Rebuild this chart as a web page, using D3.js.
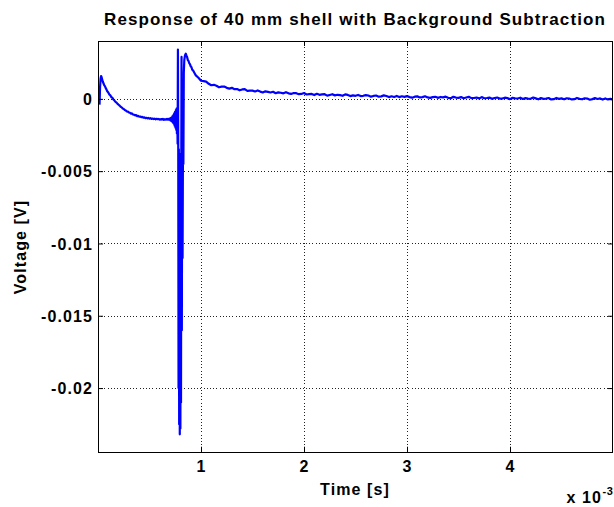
<!DOCTYPE html>
<html>
<head>
<meta charset="utf-8">
<script src="https://cdn.jsdelivr.net/npm/d3@7"></script>
<style>
  html, body { margin: 0; padding: 0; background: #fff; }
  svg { display: block; font-family: "Liberation Sans", Arial, Helvetica, sans-serif; font-weight: bold; }
</style>
</head>
<body>
<svg id="chart" width="614" height="507"></svg>
<script>
// ---- labels and ticks ----
const chartTitle = "Response of 40 mm shell with Background Subtraction";
const xLabel = "Time [s]";
const yLabel = "Voltage [V]";
const xMultiplier = "x 10";
const xExponent = "-3";
const xDomain = [0, 5];               // time in units of 10^-3 s
const xTicks = [1, 2, 3, 4];
const xTickLabels = ["1", "2", "3", "4"];
const yDomain = [-0.0244, 0.004];     // volts
const yTicks = [0, -0.005, -0.01, -0.015, -0.02];
const yTickLabels = ["0", "-0.005", "-0.01", "-0.015", "-0.02"];

// ---- measured trace ----
// early part: initial overshoot, settling plateau and the impact transient (time in ms, voltage in V)
const timeEarly = [
  0.015, 0.020, 0.025, 0.030, 0.035, 0.040, 0.047, 0.054, 0.061, 0.068,
  0.075, 0.082, 0.090, 0.100, 0.110, 0.120, 0.130, 0.140, 0.150, 0.160,
  0.170, 0.180, 0.190, 0.200, 0.210, 0.220, 0.230, 0.240, 0.250, 0.260,
  0.270, 0.280, 0.290, 0.300, 0.310, 0.320, 0.330, 0.340, 0.350, 0.360,
  0.370, 0.380, 0.390, 0.400, 0.410, 0.420, 0.430, 0.440, 0.450, 0.460,
  0.470, 0.480, 0.490, 0.500, 0.510, 0.520, 0.530, 0.540, 0.550, 0.560,
  0.570, 0.580, 0.590, 0.600, 0.610, 0.620, 0.630, 0.640, 0.650, 0.660,
  0.670, 0.680, 0.690, 0.700, 0.705, 0.710, 0.715, 0.720, 0.724, 0.728,
  0.732, 0.736, 0.740, 0.744, 0.748, 0.752, 0.756, 0.760, 0.763, 0.766,
  0.770, 0.773, 0.776, 0.779, 0.782, 0.785, 0.788, 0.791, 0.794, 0.797,
  0.800, 0.803, 0.806, 0.809, 0.811, 0.814, 0.817, 0.821, 0.825, 0.829,
  0.833, 0.838, 0.845, 0.852, 0.858, 0.865, 0.872, 0.879, 0.886, 0.893,
  0.900, 0.907, 0.914
];
const voltEarly = [
  -0.00040, 0.00080, 0.00140, 0.00158, 0.00150, 0.00136, 0.00118, 0.00106, 0.00094, 0.00086,
  0.00074, 0.00066, 0.00052, 0.00044, 0.00030, 0.00024, 0.00011, 0.00007, -0.00005, -0.00012,
  -0.00021, -0.00026, -0.00035, -0.00041, -0.00047, -0.00055, -0.00059, -0.00067, -0.00070, -0.00077,
  -0.00080, -0.00087, -0.00088, -0.00094, -0.00096, -0.00102, -0.00101, -0.00108, -0.00110, -0.00114,
  -0.00113, -0.00119, -0.00118, -0.00123, -0.00122, -0.00127, -0.00125, -0.00130, -0.00128, -0.00133,
  -0.00131, -0.00135, -0.00132, -0.00137, -0.00134, -0.00139, -0.00136, -0.00140, -0.00137, -0.00142,
  -0.00138, -0.00141, -0.00139, -0.00144, -0.00140, -0.00143, -0.00139, -0.00145, -0.00140, -0.00144,
  -0.00138, -0.00145, -0.00137, -0.00147, -0.00133, -0.00152, -0.00128, -0.00158, -0.00120, -0.00165,
  -0.00112, -0.00172, -0.00100, -0.00185, -0.00090, -0.00200, -0.00078, -0.00215, -0.00068, -0.00240,
  -0.00150, -0.00310, 0.00340, -0.00300, -0.02000, -0.00350, -0.02250, -0.00450, -0.02320, -0.00500,
  -0.02280, -0.00380, -0.02100, -0.00300, 0.00290, -0.01600, -0.00350, -0.01100, -0.00300, -0.00450,
  0.00180, 0.00270, 0.00302, 0.00312, 0.00300, 0.00290, 0.00268, 0.00262, 0.00246, 0.00240,
  0.00224, 0.00220, 0.00203
];
// late part: slow relaxation back to the baseline
const timeLate = [
  0.925, 0.950, 0.975, 1.000, 1.025, 1.050, 1.075, 1.100, 1.125, 1.150,
  1.175, 1.200, 1.225, 1.250, 1.275, 1.300, 1.325, 1.350, 1.375, 1.400,
  1.425, 1.450, 1.475, 1.500, 1.525, 1.550, 1.575, 1.600, 1.625, 1.650,
  1.675, 1.700, 1.725, 1.750, 1.775, 1.800, 1.825, 1.850, 1.875, 1.900,
  1.925, 1.950, 1.975, 2.000, 2.025, 2.050, 2.075, 2.100, 2.125, 2.150,
  2.175, 2.200, 2.225, 2.250, 2.275, 2.300, 2.325, 2.350, 2.375, 2.400,
  2.425, 2.450, 2.475, 2.500, 2.525, 2.550, 2.575, 2.600, 2.625, 2.650,
  2.675, 2.700, 2.725, 2.750, 2.775, 2.800, 2.825, 2.850, 2.875, 2.900,
  2.925, 2.950, 2.975, 3.000, 3.025, 3.050, 3.075, 3.100, 3.125, 3.150,
  3.175, 3.200, 3.225, 3.250, 3.275, 3.300, 3.325, 3.350, 3.375, 3.400,
  3.425, 3.450, 3.475, 3.500, 3.525, 3.550, 3.575, 3.600, 3.625, 3.650,
  3.675, 3.700, 3.725, 3.750, 3.775, 3.800, 3.825, 3.850, 3.875, 3.900,
  3.925, 3.950, 3.975, 4.000, 4.025, 4.050, 4.075, 4.100, 4.125, 4.150,
  4.175, 4.200, 4.225, 4.250, 4.275, 4.300, 4.325, 4.350, 4.375, 4.400,
  4.425, 4.450, 4.475, 4.500, 4.525, 4.550, 4.575, 4.600, 4.625, 4.650,
  4.675, 4.700, 4.725, 4.750, 4.775, 4.800, 4.825, 4.850, 4.875, 4.900,
  4.925, 4.950, 4.975, 5.000
];
const voltLate = [
  0.00194, 0.00162, 0.00146, 0.00125, 0.00123, 0.00119, 0.00104, 0.00094, 0.00097, 0.00090,
  0.00080, 0.00084, 0.00085, 0.00076, 0.00071, 0.00076, 0.00067, 0.00068, 0.00059, 0.00065,
  0.00067, 0.00055, 0.00057, 0.00057, 0.00051, 0.00058, 0.00050, 0.00044, 0.00052, 0.00048,
  0.00044, 0.00049, 0.00039, 0.00045, 0.00042, 0.00038, 0.00046, 0.00038, 0.00034, 0.00040,
  0.00039, 0.00032, 0.00034, 0.00040, 0.00030, 0.00033, 0.00034, 0.00026, 0.00035, 0.00028,
  0.00031, 0.00032, 0.00022, 0.00027, 0.00032, 0.00024, 0.00028, 0.00026, 0.00021, 0.00031,
  0.00027, 0.00019, 0.00024, 0.00021, 0.00027, 0.00019, 0.00021, 0.00026, 0.00023, 0.00015,
  0.00020, 0.00023, 0.00015, 0.00017, 0.00024, 0.00020, 0.00012, 0.00018, 0.00013, 0.00020,
  0.00012, 0.00018, 0.00014, 0.00019, 0.00012, 0.00008, 0.00015, 0.00017, 0.00010, 0.00012,
  0.00018, 0.00010, 0.00007, 0.00012, 0.00014, 0.00007, 0.00013, 0.00010, 0.00015, 0.00007,
  0.00004, 0.00014, 0.00009, 0.00007, 0.00012, 0.00004, 0.00009, 0.00014, 0.00005, 0.00006,
  0.00009, 0.00003, 0.00012, 0.00004, 0.00006, 0.00009, 0.00000, 0.00006, 0.00009, 0.00002,
  0.00002, 0.00008, 0.00005, -0.00002, 0.00007, 0.00004, 0.00002, 0.00008, -0.00001, 0.00005,
  0.00002, 0.00000, 0.00009, 0.00003, -0.00003, 0.00005, 0.00000, 0.00002, 0.00006, -0.00004,
  -0.00002, 0.00006, 0.00000, 0.00003, -0.00003, 0.00004, 0.00002, -0.00004, -0.00002, 0.00006,
  0.00000, -0.00003, 0.00004, 0.00002, -0.00006, -0.00002, 0.00005, -0.00001, 0.00003, -0.00005,
  0.00003, -0.00004, 0.00000, -0.00006
];

// ---- layout ----
const W = 614, H = 507;
const plot = { left: 98, top: 41, right: 613, bottom: 451.7 };
const lineColor = "#0000ff";
const textSpacing = "1.1px";

const svg = d3.select("#chart");
svg.append("rect").attr("width", W).attr("height", H).attr("fill", "#fff");

const x = d3.scaleLinear().domain(xDomain).range([plot.left, plot.right]);
const y = d3.scaleLinear().domain(yDomain).range([plot.bottom, plot.top]);

const series = timeEarly.map((t, i) => ({ t, v: voltEarly[i] }))
  .concat(timeLate.map((t, i) => ({ t, v: voltLate[i] })));

// dotted grid
const grid = svg.append("g").attr("stroke", "#222").attr("stroke-width", 1)
  .attr("stroke-dasharray", "1,2.2").attr("shape-rendering", "crispEdges");
grid.selectAll("line.gx").data(xTicks).join("line").attr("class", "gx")
  .attr("x1", d => Math.round(x(d)) + 0.5).attr("x2", d => Math.round(x(d)) + 0.5)
  .attr("y1", plot.top).attr("y2", plot.bottom);
grid.selectAll("line.gy").data(yTicks).join("line").attr("class", "gy")
  .attr("x1", plot.left).attr("x2", plot.right)
  .attr("y1", d => Math.round(y(d)) + 0.5).attr("y2", d => Math.round(y(d)) + 0.5);

// trace
svg.append("clipPath").attr("id", "plotClip").append("rect")
  .attr("x", plot.left).attr("y", plot.top)
  .attr("width", plot.right - plot.left).attr("height", plot.bottom - plot.top);

const line = d3.line().x(d => x(d.t)).y(d => y(d.v));
svg.append("path").datum(series)
  .attr("clip-path", "url(#plotClip)")
  .attr("fill", "none").attr("stroke", lineColor)
  .attr("stroke-width", 2.2).attr("stroke-linejoin", "round")
  .attr("d", line);

// axes with inward ticks on all four sides
const tickLen = 5;
const axisFont = g => g.selectAll("text")
  .attr("font-family", "'Liberation Sans', Arial, Helvetica, sans-serif")
  .attr("font-weight", "bold").attr("font-size", 16).attr("fill", "#000")
  .style("letter-spacing", textSpacing);

const xAxisB = d3.axisBottom(x).tickValues(xTicks)
  .tickFormat((d, i) => xTickLabels[i]).tickSizeInner(-tickLen).tickSizeOuter(0).tickPadding(10);
svg.append("g").attr("transform", `translate(0,${plot.bottom})`).call(xAxisB)
  .call(g => g.select(".domain").remove())
  .call(g => g.selectAll("line").attr("stroke", "#000"))
  .call(axisFont)
  .call(g => g.selectAll("text").attr("dy", "0").attr("y", 20));

const xAxisT = d3.axisTop(x).tickValues(xTicks).tickFormat("")
  .tickSizeInner(-tickLen).tickSizeOuter(0);
svg.append("g").attr("transform", `translate(0,${plot.top})`).call(xAxisT)
  .call(g => g.select(".domain").remove())
  .call(g => g.selectAll("line").attr("stroke", "#000"));

const yAxisL = d3.axisLeft(y).tickValues(yTicks)
  .tickFormat((d, i) => yTickLabels[i]).tickSizeInner(-tickLen).tickSizeOuter(0).tickPadding(7);
svg.append("g").attr("transform", `translate(${plot.left},0)`).call(yAxisL)
  .call(g => g.select(".domain").remove())
  .call(g => g.selectAll("line").attr("stroke", "#000"))
  .call(axisFont)
  .call(g => g.selectAll("text").attr("dy", "0.36em").attr("x", -5));

const yAxisR = d3.axisRight(y).tickValues(yTicks).tickFormat("")
  .tickSizeInner(-tickLen).tickSizeOuter(0);
svg.append("g").attr("transform", `translate(${plot.right},0)`).call(yAxisR)
  .call(g => g.select(".domain").remove())
  .call(g => g.selectAll("line").attr("stroke", "#000"));

// frame
svg.append("rect")
  .attr("x", plot.left + 0.5).attr("y", plot.top + 0.5)
  .attr("width", plot.right - plot.left - 1).attr("height", plot.bottom - plot.top)
  .attr("fill", "none").attr("stroke", "#000").attr("stroke-width", 1)
  .attr("shape-rendering", "crispEdges");

// titles
svg.append("text").attr("x", 355).attr("y", 25).attr("text-anchor", "middle")
  .attr("font-size", 17).style("letter-spacing", textSpacing).text(chartTitle);

svg.append("text").attr("x", 355).attr("y", 495).attr("text-anchor", "middle")
  .attr("font-size", 16).style("letter-spacing", textSpacing).text(xLabel);

svg.append("text").attr("transform", `translate(26,247) rotate(-90)`)
  .attr("text-anchor", "middle").attr("font-size", 16)
  .style("letter-spacing", textSpacing).text(yLabel);

// axis multiplier
svg.append("text").attr("x", 602).attr("y", 503)
  .attr("text-anchor", "end").attr("font-size", 16).style("letter-spacing", textSpacing)
  .text(xMultiplier);
svg.append("text").attr("x", 602.5).attr("y", 495)
  .attr("font-size", 11).style("letter-spacing", "0.5px").text(xExponent);
</script>
</body>
</html>
